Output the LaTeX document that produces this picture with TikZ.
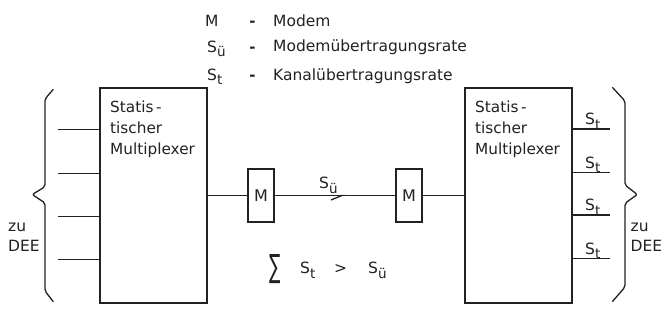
\documentclass[tikz,border=0pt]{standalone}
\usepackage{fontspec}
\setmainfont{DejaVu Sans}
\usetikzlibrary{arrows.meta,decorations.markings}
\definecolor{ink}{HTML}{222222}
\newcommand\lowsub[1]{\raisebox{-0.3em}{\fontsize{13.5}{13.5}\selectfont #1}}
\begin{document}
\begin{tikzpicture}[x=1pt,y=-1pt,
  mux/.style={draw=ink, line width=2pt, minimum width=107pt, minimum height=215pt, inner sep=0pt},
  modem/.style={draw=ink, line width=1.7pt, minimum width=26pt, minimum height=53pt, inner sep=0pt, text=ink, font=\fontsize{16}{16}\selectfont},
  wire/.style={draw=ink, line width=1.3pt},
  brace/.style={draw=ink, line width=1.3pt, rounded corners=2pt},
  lbl/.style={inner sep=0pt, text=ink, font=\fontsize{15.5}{15.5}\selectfont},
  boxtxt/.style={inner sep=0pt, text=ink, align=left, font=\fontsize{15.3}{21}\selectfont},
  barb/.style={decoration={markings, mark=at position 0.585 with {\arrow[ink, line width=1.3pt]{Straight Barb[harpoon, swap, length=11pt, width=9pt]}}}, postaction={decorate}}
]
\useasboundingbox (0,0) rectangle (665,322);
\fill[white] (0,0) rectangle (665,322);

% legend
\node[lbl, anchor=base west] (lgM) at (205,26.7) {M};
\node[lbl, anchor=base west] (lgSu) at (207,52) {S\lowsub{ü}};
\node[lbl, anchor=base west] (lgSt) at (207,80) {S\lowsub{t}};
\node[lbl, anchor=base, font=\fontsize{15}{15}\bfseries] (d1) at (252.5,26.4) {-};
\node[lbl, anchor=base, font=\fontsize{15}{15}\bfseries] (d2) at (252.5,52.2) {-};
\node[lbl, anchor=base, font=\fontsize{15}{15}\bfseries] (d3) at (252.5,80.5) {-};
\node[lbl, anchor=base west] (t1) at (273,26.7) {Modem};
\node[lbl, anchor=base west] (t2) at (273,51.7) {Modemübertragungsrate};
\node[lbl, anchor=base west] (t3) at (273,80) {Kanalübertragungsrate};

% multiplexers
\node[mux] (lm) at (153,195) {};
\node[mux] (rm) at (518,195) {};
\node[boxtxt, anchor=north west] (ltx) at (110,101) {Statis\,-\\tischer\\Multiplexer};
\node[boxtxt, anchor=north west] (rtx) at (475,101) {Statis\,-\\tischer\\Multiplexer};

% modems
\node[modem] (m1) at (261,195.5) {M};
\node[modem] (m2) at (409,195.5) {M};
\draw[wire] (lm.east |- m1) -- (m1.west);
\draw[wire, barb] (m1.east) -- (m2.west);
\draw[wire] (m2.east) -- (rm.west |- m2);
\node[lbl, anchor=base west] (su) at (319,188.5) {S\lowsub{ü}};

% inputs
\foreach \y [count=\i] in {129.5,173.5,216.5,259.5} {
  \coordinate (in\i) at (58,\y);
  \draw[wire] (in\i) -- (in\i -| lm.west);
}
% outputs
\foreach \y [count=\i] in {129,172.5,215,258.5} {
  \coordinate (out\i) at (610,\y);
  \draw[wire] (out\i -| rm.east) -- (out\i);
  \node[lbl, anchor=base west] (st\i) at (585,\y-4.5) {S\lowsub{t}};
}

% braces
\draw[brace] (53.3,89.3) -- (45,99) -- (45,186.7) -- (32.3,194.5) -- (45,203) -- (45,291) -- (53.3,301.7);
\draw[brace] (612.3,87.3) -- (625,101) -- (625,185) -- (637.3,194.5) -- (625,203.3) -- (625,287) -- (612.3,301.7);
\node[lbl, anchor=base west] (zl) at (8,231) {zu};
\node[lbl, anchor=base west] (dl) at (8,251.5) {DEE};
\node[lbl, anchor=base west] (zr) at (630.5,231) {zu};
\node[lbl, anchor=base west] (dr) at (630.5,251.5) {DEE};

% sum
\node[lbl, font=\fontsize{16}{16}\selectfont] (sig) at (275.5,269) {\scalebox{1.05}[2.0]{∑}};
\node[lbl, anchor=base west] (sst) at (300,273.5) {S\lowsub{t}};
\node[lbl, anchor=base west] (sgt) at (334,273.5) {>};
\node[lbl, anchor=base west] (ssu) at (368,273.5) {S\lowsub{ü}};
\end{tikzpicture}
\end{document}
